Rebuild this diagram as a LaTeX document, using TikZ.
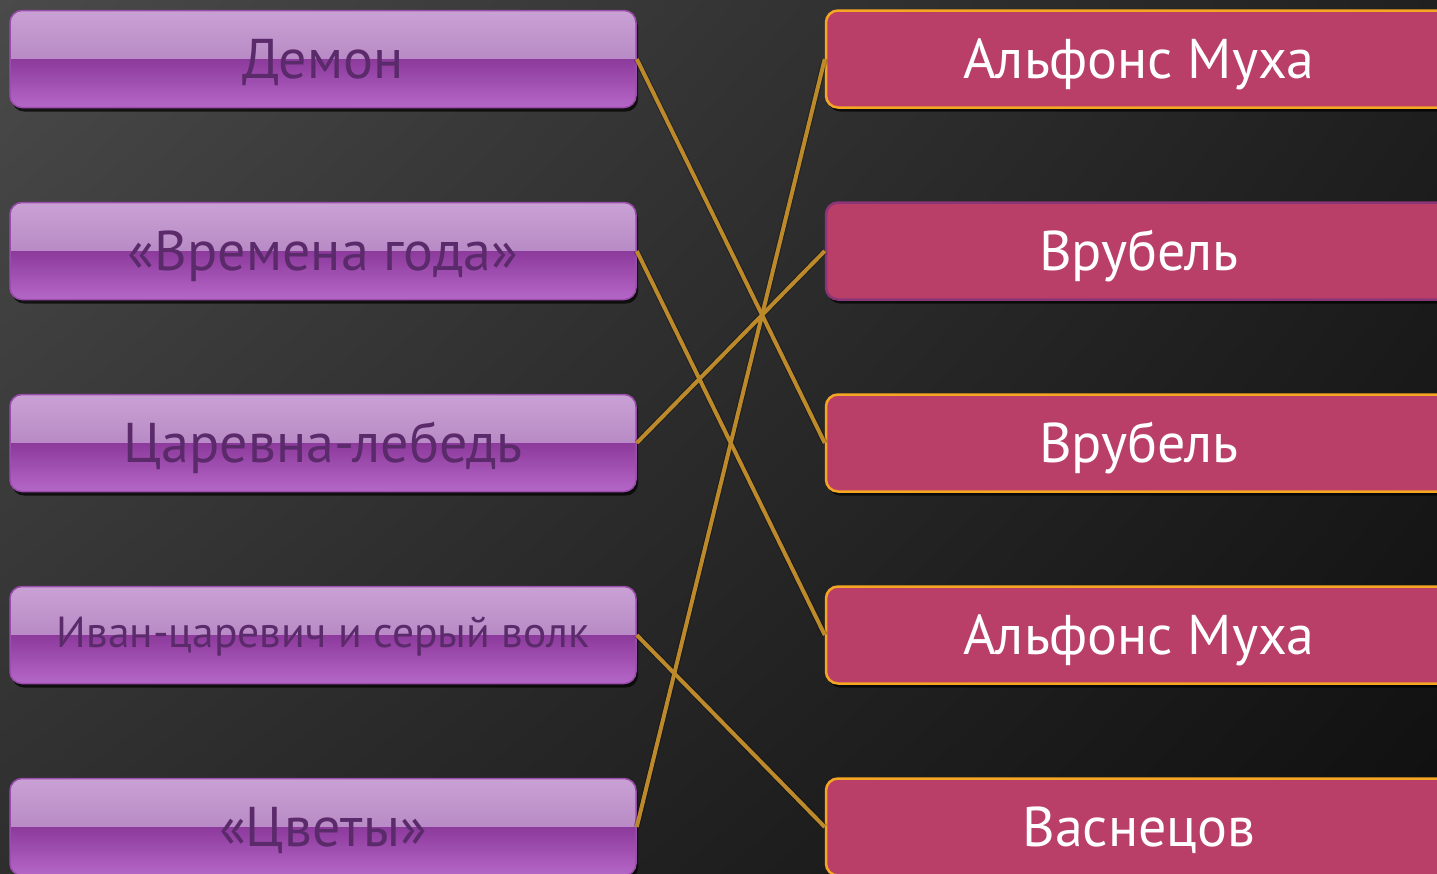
\documentclass[tikz,border=0pt]{standalone}
\usepackage{fontspec}
\setmainfont{PT Sans}
\usetikzlibrary{shadows,shadings}
\definecolor{bgUL}{HTML}{4A4A4A}
\definecolor{bgUR}{HTML}{202020}
\definecolor{bgLL}{HTML}{2E2E2E}
\definecolor{bgLR}{HTML}{0F0F0F}
\definecolor{lavtop}{HTML}{C9A1D4}
\definecolor{lavmid}{HTML}{A874B8}
\definecolor{purpdark}{HTML}{8C3A9C}
\definecolor{purpbot}{HTML}{B567C7}
\definecolor{lborder}{HTML}{9C4CAC}
\definecolor{ltext}{HTML}{5B2A6B}
\definecolor{rfill}{HTML}{B93E68}
\definecolor{rborderA}{HTML}{F5A623}
\definecolor{rborderB}{HTML}{8A3577}
\definecolor{linkc}{HTML}{BC8A2A}
\begin{document}
\begin{tikzpicture}[x=1pt,y=1pt,
  lbox/.style={rounded corners=12pt, minimum width=626pt, minimum height=97pt,
    inner sep=0pt, draw=lborder, line width=1.5pt, text=ltext,
    font=\fontsize{56}{60}\selectfont, text height=39pt, text depth=0pt,
    drop shadow={shadow xshift=2pt, shadow yshift=-4pt, opacity=0.7, fill=black},
    path picture={
      \shade[sharp corners, top color=lavtop,bottom color=lavmid]
        (path picture bounding box.north west) rectangle (path picture bounding box.east);
      \shade[sharp corners, top color=purpdark,bottom color=purpbot]
        (path picture bounding box.west) rectangle (path picture bounding box.south east);
    }},
  rbox/.style={rounded corners=12pt, minimum width=626pt, minimum height=97pt,
    inner sep=0pt, fill=rfill, draw=rborderA, line width=2.5pt, text=white,
    font=\fontsize{56}{60}\selectfont, text height=39pt, text depth=0pt,
    drop shadow={shadow xshift=2pt, shadow yshift=-4pt, opacity=0.7, fill=black}},
  linkshadow/.style={draw=black, opacity=0.3, line width=6pt},
  link/.style={draw=linkc, line width=4pt}
]
\useasboundingbox (0,0) rectangle (1437,-873);
\shade[upper left=bgUL, upper right=bgUR, lower left=bgLL, lower right=bgLR]
  (0,0) rectangle (1437,-873);

\node[lbox] (l1) at (323,-59) {Демон};
\node[lbox] (l2) at (323,-251) {«Времена года»};
\node[lbox] (l3) at (323,-443) {Царевна-лебедь};
\node[lbox, font=\fontsize{43.5}{48}\selectfont, text height=24pt] (l4) at (323,-635) {Иван-царевич и серый волк};
\node[lbox] (l5) at (323,-827) {«Цветы»};

\node[rbox] (r1) at (1139,-59) {Альфонс Муха};
\node[rbox, draw=rborderB] (r2) at (1139,-251) {Врубель};
\node[rbox] (r3) at (1139,-443) {Врубель};
\node[rbox] (r4) at (1139,-635) {Альфонс Муха};
\node[rbox] (r5) at (1139,-827) {Васнецов};

\foreach \a/\b in {l1/r3, l2/r4, l3/r2, l4/r5, l5/r1}
  \draw[linkshadow] (\a.east) -- (\b.west);
\draw[link] (l1.east) -- (r3.west);
\draw[link] (l2.east) -- (r4.west);
\draw[link] (l3.east) -- (r2.west);
\draw[link] (l4.east) -- (r5.west);
\draw[link] (l5.east) -- (r1.west);
\end{tikzpicture}
\end{document}
